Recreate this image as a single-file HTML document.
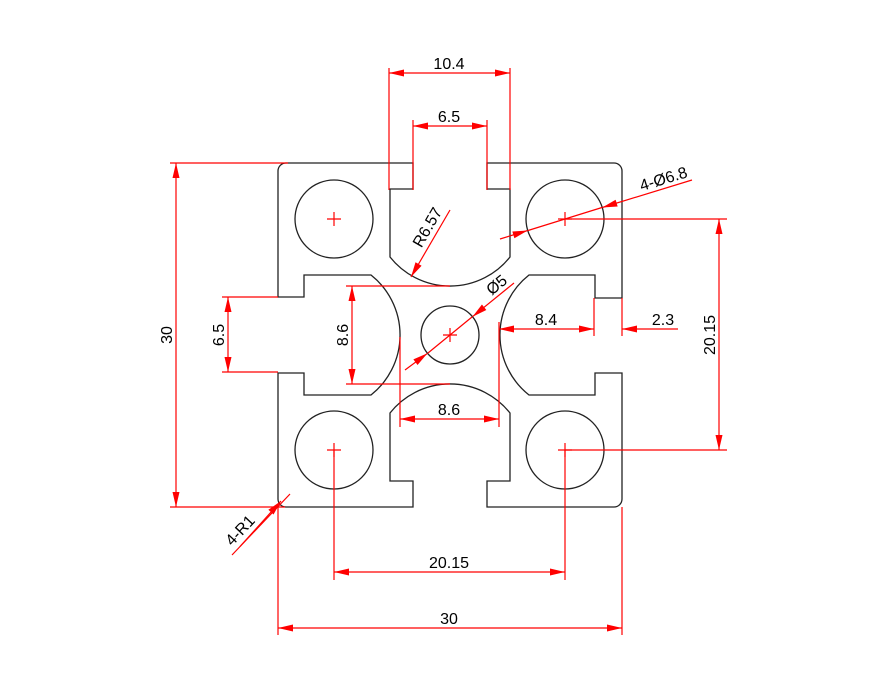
<!DOCTYPE html>
<html><head><meta charset="utf-8"><style>
html,body{margin:0;padding:0;background:#fff}
svg{display:block}
text{font-family:"Liberation Sans",sans-serif;font-size:16px;fill:#000}
</style></head><body>
<svg width="892" height="685" viewBox="0 0 892 685" xmlns="http://www.w3.org/2000/svg">
<defs>
<marker id="a" markerUnits="userSpaceOnUse" markerWidth="20" markerHeight="10" refX="0" refY="0" viewBox="-16 -5 17 10" orient="auto-start-reverse">
<path d="M0,0 L-15,-3.5 L-15,3.5 Z" fill="#f00"/>
</marker>
</defs>
<g fill="none" stroke="#222" stroke-width="1.3">
<path d="M286,163 H413 V189 H390 V257 A76.5 76.5 0 0 0 510 257 V189 H487 V163 H614 A8 8 0 0 1 622 171 V298 H595 V275 H529 A76.5 76.5 0 0 0 529 395 H595 V373 H622 V499 A8 8 0 0 1 614 507 H487 V481 H510 V413 A76.5 76.5 0 0 0 390 413 V481 H413 V507 H286 A8 8 0 0 1 278 499 V373 H304 V395 H371 A76.5 76.5 0 0 0 371 275 H304 V297 H278 V171 A8 8 0 0 1 286 163 Z"/>
<circle cx="334" cy="219" r="39"/>
<circle cx="565" cy="219" r="39"/>
<circle cx="334" cy="450" r="39"/>
<circle cx="565" cy="450" r="39"/>
<circle cx="450" cy="335" r="29"/>
</g>
<g stroke="#f00" stroke-width="1.2" fill="none">
<path d="M327,219H341M334,212V226 M558,219H572M565,212V226 M327,450H341M334,443V457 M558,450H572M565,443V457 M443,335H457M450,328V342"/>
<path d="M389,68V190 M510,68V190"/>
<line x1="389" y1="73" x2="510" y2="73" marker-start="url(#a)" marker-end="url(#a)"/>
<path d="M413,120V190 M487,120V190"/>
<line x1="413" y1="126" x2="487" y2="126" marker-start="url(#a)" marker-end="url(#a)"/>
<path d="M170,163H288 M170,507H285"/>
<line x1="176" y1="163" x2="176" y2="507" marker-start="url(#a)" marker-end="url(#a)"/>
<path d="M222,297H278 M222,372H278"/>
<line x1="228" y1="297" x2="228" y2="372" marker-start="url(#a)" marker-end="url(#a)"/>
<path d="M346,286H450 M346,384H450"/>
<line x1="352" y1="286" x2="352" y2="384" marker-start="url(#a)" marker-end="url(#a)"/>
<path d="M400,337V427 M499,322V427"/>
<line x1="400" y1="419" x2="499" y2="419" marker-start="url(#a)" marker-end="url(#a)"/>
<path d="M594,298V336 M622,298V336"/>
<line x1="499" y1="329" x2="594" y2="329" marker-start="url(#a)" marker-end="url(#a)"/>
<line x1="678" y1="329" x2="622" y2="329" marker-end="url(#a)"/>
<path d="M565,219H727 M565,450H727"/>
<line x1="719" y1="219" x2="719" y2="450" marker-start="url(#a)" marker-end="url(#a)"/>
<path d="M334,450V580 M565,450V580"/>
<line x1="334" y1="572" x2="565" y2="572" marker-start="url(#a)" marker-end="url(#a)"/>
<path d="M278,507V635 M622,507V635"/>
<line x1="278" y1="628" x2="622" y2="628" marker-start="url(#a)" marker-end="url(#a)"/>
<line x1="450" y1="210" x2="411" y2="277" marker-end="url(#a)"/>
<line x1="514" y1="283" x2="472.5" y2="316.7" marker-end="url(#a)"/>
<line x1="405" y1="370" x2="427.5" y2="353.3" marker-end="url(#a)"/>
<line x1="472" y1="317" x2="428" y2="353"/>
<line x1="692" y1="180" x2="602.3" y2="207.5" marker-end="url(#a)"/>
<line x1="500" y1="239" x2="527.7" y2="230.5" marker-end="url(#a)"/>
<line x1="528" y1="230.5" x2="602" y2="207.5"/>
<line x1="232" y1="555" x2="290" y2="494"/>
<line x1="240" y1="546.5" x2="281" y2="501" marker-end="url(#a)"/>
</g>
<g text-anchor="middle">
<text x="449" y="69">10.4</text>
<text x="449" y="122">6.5</text>
<text x="449" y="415">8.6</text>
<text x="546" y="325">8.4</text>
<text x="663" y="325">2.3</text>
<text x="449" y="568">20.15</text>
<text x="449" y="624">30</text>
<text transform="translate(172,335) rotate(-90)">30</text>
<text transform="translate(224,335) rotate(-90)">6.5</text>
<text transform="translate(348,335) rotate(-90)">8.6</text>
<text transform="translate(715,335) rotate(-90)">20.15</text>
<text transform="translate(432,230) rotate(-60)">R6.57</text>
<text transform="translate(500,289) rotate(-39)">Ø5</text>
<text transform="translate(665,184) rotate(-17)">4-Ø6.8</text>
<text transform="translate(244,534) rotate(-47)">4-R1</text>
</g>
</svg>
</body></html>
